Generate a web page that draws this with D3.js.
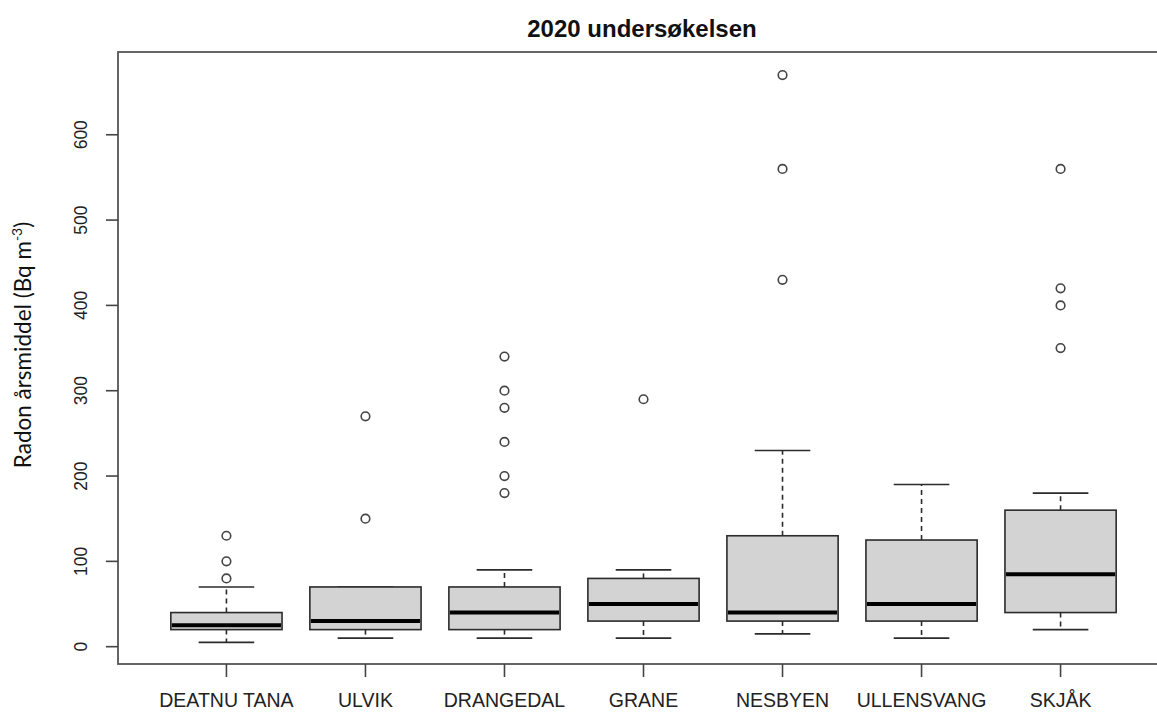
<!DOCTYPE html>
<html>
<head>
<meta charset="utf-8">
<script src="https://cdn.jsdelivr.net/npm/d3@7"></script>
<style>
  html, body { margin: 0; padding: 0; background: #fff; }
  svg { display: block; }
</style>
</head>
<body>
<svg id="chart" width="1157" height="713"></svg>
<script>
// Municipalities surveyed in 2020
const categories = ["DEATNU TANA", "ULVIK", "DRANGEDAL", "GRANE", "NESBYEN", "ULLENSVANG", "SKJÅK"];

// Box statistics, annual mean radon (Bq m-3)
const lowerWhisker = [5, 10, 10, 10, 15, 10, 20];
const q1 = [20, 20, 20, 30, 30, 30, 40];
const median = [25, 30, 40, 50, 40, 50, 85];
const q3 = [40, 70, 70, 80, 130, 125, 160];
const upperWhisker = [70, 70, 90, 90, 230, 190, 180];
const outliers = [
  [80, 100, 130],
  [150, 270],
  [180, 200, 240, 280, 300, 340],
  [290],
  [430, 560, 670],
  [],
  [350, 400, 420, 560]
];

const yTicks = [0, 100, 200, 300, 400, 500, 600];

const svg = d3.select("#chart");
const frame = { left: 118, right: 1169, top: 52, bottom: 664 };

// x: categories at positions 1..n, padded like a base-R boxplot
const x = d3.scaleLinear()
  .domain([0.5 - 0.28, categories.length + 0.5 + 0.28])
  .range([frame.left, frame.right]);
const boxW = x(1.8) - x(1);     // box width = 0.8 units
const stapleW = boxW / 2;

const y = d3.scaleLinear()
  .domain([-20.3, 697])
  .range([frame.bottom, frame.top]);

const ink = "#2b2b2b";

// Boxes
const g = svg.append("g");
categories.forEach((c, i) => {
  const cx = x(i + 1);
  const grp = g.append("g");
  // dashed whiskers
  grp.append("line")
    .attr("x1", cx).attr("x2", cx)
    .attr("y1", y(q3[i])).attr("y2", y(upperWhisker[i]))
    .attr("stroke", ink).attr("stroke-width", 1.6).attr("stroke-dasharray", "5,4");
  grp.append("line")
    .attr("x1", cx).attr("x2", cx)
    .attr("y1", y(q1[i])).attr("y2", y(lowerWhisker[i]))
    .attr("stroke", ink).attr("stroke-width", 1.6).attr("stroke-dasharray", "5,4");
  // staples
  [lowerWhisker[i], upperWhisker[i]].forEach(v => {
    grp.append("line")
      .attr("x1", cx - stapleW / 2).attr("x2", cx + stapleW / 2)
      .attr("y1", y(v)).attr("y2", y(v))
      .attr("stroke", ink).attr("stroke-width", 1.6);
  });
  // box
  grp.append("rect")
    .attr("x", cx - boxW / 2).attr("width", boxW)
    .attr("y", y(q3[i])).attr("height", y(q1[i]) - y(q3[i]))
    .attr("fill", "#d3d3d3").attr("stroke", ink).attr("stroke-width", 1.6);
  // median
  grp.append("line")
    .attr("x1", cx - boxW / 2 + 1).attr("x2", cx + boxW / 2 - 1)
    .attr("y1", y(median[i])).attr("y2", y(median[i]))
    .attr("stroke", "#000").attr("stroke-width", 4);
  // outliers
  grp.selectAll("circle").data(outliers[i]).enter().append("circle")
    .attr("cx", cx).attr("cy", d => y(d)).attr("r", 4.3)
    .attr("fill", "none").attr("stroke", "#444").attr("stroke-width", 1.6);
});

// Plot frame
svg.append("rect")
  .attr("x", frame.left).attr("y", frame.top)
  .attr("width", frame.right - frame.left).attr("height", frame.bottom - frame.top)
  .attr("fill", "none").attr("stroke", "#555").attr("stroke-width", 1.8);

// Y axis (ticks + rotated labels)
const yAxis = svg.append("g");
yTicks.forEach(t => {
  yAxis.append("line")
    .attr("x1", frame.left - 12).attr("x2", frame.left)
    .attr("y1", y(t)).attr("y2", y(t))
    .attr("stroke", "#444").attr("stroke-width", 1.6);
  yAxis.append("text")
    .attr("transform", `translate(87,${y(t)}) rotate(-90)`)
    .attr("text-anchor", "middle")
    .attr("font-family", "Liberation Sans, Arial, sans-serif")
    .attr("font-size", 17.5)
    .attr("fill", "#222")
    .text(t);
});

// X axis (ticks + labels)
const xAxis = svg.append("g");
categories.forEach((c, i) => {
  const cx = x(i + 1);
  xAxis.append("line")
    .attr("x1", cx).attr("x2", cx)
    .attr("y1", frame.bottom).attr("y2", frame.bottom + 13)
    .attr("stroke", "#444").attr("stroke-width", 1.6);
  xAxis.append("text")
    .attr("x", cx).attr("y", 707)
    .attr("text-anchor", "middle")
    .attr("font-family", "Liberation Sans, Arial, sans-serif")
    .attr("font-size", 19.5)
    .attr("fill", "#222")
    .text(c);
});

// Title
svg.append("text")
  .attr("x", 642).attr("y", 37)
  .attr("text-anchor", "middle")
  .attr("font-family", "Liberation Sans, Arial, sans-serif")
  .attr("font-weight", "bold")
  .attr("font-size", 24)
  .attr("fill", "#111")
  .text("2020 undersøkelsen");

// Y axis title with superscript
const yt = svg.append("text")
  .attr("transform", "translate(31,345) rotate(-90)")
  .attr("text-anchor", "middle")
  .attr("font-family", "Lato, 'Open Sans', sans-serif")
  .attr("font-size", 22.5)
  .attr("fill", "#111");
yt.append("tspan").text("Radon årsmiddel (Bq m");
yt.append("tspan").attr("dy", -9).attr("font-size", 14).text("-3");
yt.append("tspan").attr("dy", 9).text(")");
</script>
</body>
</html>
